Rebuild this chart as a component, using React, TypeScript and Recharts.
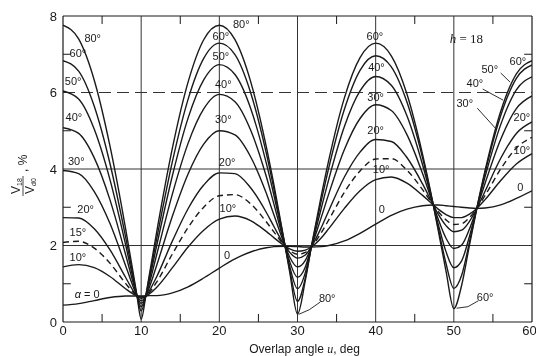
import { LineChart, Line, XAxis, YAxis, ReferenceLine, ReferenceDot, Label } from 'recharts'

const overlap = [0, 2, 4, 6, 8, 9, 9.47, 10, 10.59, 11, 12, 14, 16, 18, 20, 22, 24, 26, 27, 28.42, 29, 30, 31, 31.76, 33, 34, 36, 38, 40, 42, 44, 46, 47.37, 48, 49, 50, 51, 52, 52.94, 54, 56, 58, 60]

// V18/Vd0 in percent, one list per delay angle alpha
const alpha0 = [0.44, 0.48, 0.56, 0.64, 0.68, 0.68, 0.68, 0.68, 0.68, 0.69, 0.69, 0.76, 0.92, 1.15, 1.41, 1.65, 1.83, 1.94, 1.97, 1.98, 1.98, 1.97, 1.96, 1.96, 1.97, 2.0, 2.12, 2.32, 2.56, 2.79, 2.95, 3.04, 3.06, 3.06, 3.04, 3.02, 3.0, 2.98, 2.97, 2.98, 3.06, 3.23, 3.43]
const alpha10 = [1.44, 1.5, 1.42, 1.19, 0.87, 0.73, 0.68, 0.66, 0.68, 0.73, 0.91, 1.42, 1.96, 2.4, 2.69, 2.77, 2.65, 2.37, 2.2, 1.98, 1.91, 1.85, 1.88, 1.96, 2.19, 2.44, 2.97, 3.43, 3.72, 3.79, 3.63, 3.31, 3.06, 2.95, 2.81, 2.73, 2.73, 2.82, 2.97, 3.2, 3.7, 4.13, 4.4]
const alpha15 = [2.08, 2.11, 1.93, 1.54, 1.01, 0.77, 0.68, 0.65, 0.68, 0.76, 1.05, 1.78, 2.47, 3.0, 3.3, 3.33, 3.09, 2.62, 2.35, 1.98, 1.87, 1.77, 1.82, 1.96, 2.32, 2.67, 3.39, 3.95, 4.26, 4.27, 3.97, 3.46, 3.06, 2.89, 2.67, 2.55, 2.57, 2.73, 2.97, 3.31, 4.0, 4.55, 4.83]
const alpha20 = [2.73, 2.72, 2.44, 1.89, 1.17, 0.81, 0.68, 0.62, 0.68, 0.8, 1.19, 2.12, 2.96, 3.58, 3.9, 3.88, 3.51, 2.87, 2.49, 1.98, 1.82, 1.67, 1.75, 1.96, 2.45, 2.91, 3.79, 4.44, 4.77, 4.72, 4.3, 3.61, 3.06, 2.82, 2.52, 2.36, 2.4, 2.63, 2.97, 3.42, 4.28, 4.93, 5.23]
const alpha30 = [3.96, 3.88, 3.41, 2.58, 1.48, 0.91, 0.68, 0.56, 0.68, 0.88, 1.49, 2.77, 3.87, 4.65, 5.0, 4.89, 4.32, 3.37, 2.79, 1.98, 1.7, 1.44, 1.61, 1.96, 2.71, 3.35, 4.51, 5.32, 5.68, 5.53, 4.9, 3.88, 3.06, 2.69, 2.19, 1.92, 2.01, 2.43, 2.97, 3.63, 4.78, 5.58, 5.91]
const alpha40 = [5.08, 4.93, 4.29, 3.2, 1.77, 1.01, 0.68, 0.49, 0.68, 0.97, 1.77, 3.35, 4.67, 5.57, 5.95, 5.76, 5.02, 3.81, 3.07, 1.98, 1.58, 1.17, 1.44, 1.96, 2.94, 3.73, 5.11, 6.04, 6.42, 6.19, 5.39, 4.11, 3.06, 2.56, 1.84, 1.42, 1.6, 2.24, 2.97, 3.8, 5.16, 6.07, 6.41]
const alpha50 = [6.04, 5.83, 5.04, 3.73, 2.03, 1.1, 0.68, 0.4, 0.68, 1.05, 2.01, 3.83, 5.33, 6.33, 6.73, 6.47, 5.59, 4.16, 3.3, 1.98, 1.46, 0.87, 1.29, 1.96, 3.13, 4.03, 5.56, 6.58, 6.96, 6.67, 5.75, 4.29, 3.06, 2.46, 1.53, 0.88, 1.22, 2.09, 2.97, 3.91, 5.4, 6.37, 6.72]
const alpha60 = [6.83, 6.56, 5.64, 4.15, 2.23, 1.18, 0.68, 0.29, 0.68, 1.12, 2.19, 4.2, 5.82, 6.89, 7.29, 6.99, 6.0, 4.42, 3.46, 1.98, 1.37, 0.54, 1.15, 1.96, 3.26, 4.23, 5.86, 6.91, 7.29, 6.96, 5.96, 4.38, 3.06, 2.4, 1.33, 0.35, 0.96, 2.01, 2.97, 3.96, 5.51, 6.49, 6.83]
const alpha80 = [7.76, 7.4, 6.32, 4.61, 2.45, 1.26, 0.68, 0.07, 0.68, 1.18, 2.37, 4.55, 6.27, 7.38, 7.76, 7.38, 6.29, 4.59, 3.57, 1.98, 1.31, 0.21, 1.09, 1.96, null, null, null, null, null, null, null, null, null, null, null, null, null, null, null, null, null, null, null]

const series = [
  { key: 'a0', values: alpha0, dashed: false },
  { key: 'a10', values: alpha10, dashed: false },
  { key: 'a15', values: alpha15, dashed: true },
  { key: 'a20', values: alpha20, dashed: false },
  { key: 'a30', values: alpha30, dashed: false },
  { key: 'a40', values: alpha40, dashed: false },
  { key: 'a50', values: alpha50, dashed: false },
  { key: 'a60', values: alpha60, dashed: false },
  { key: 'a80', values: alpha80, dashed: false },
]

const rows = overlap.map((u, i) => {
  const row: Record<string, number | null> = { u }
  series.forEach(s => { row[s.key] = s.values[i] })
  return row
})

const xTicks = [0, 10, 20, 30, 40, 50, 60]
const yTicks = [0, 2, 4, 6, 8]
const minorU = [5, 15, 25, 35, 45, 55]
const minorV = [1, 3, 5, 7]
const gridU = [10, 20, 30, 40, 50]

// curve labels: position in data units, optional italic lead
const curveNotes = [
  { u: 3.8, v: 7.43, text: '80°' },
  { u: 1.9, v: 7.03, text: '60°' },
  { u: 1.3, v: 6.3, text: '50°' },
  { u: 1.4, v: 5.36, text: '40°' },
  { u: 1.7, v: 4.21, text: '30°' },
  { u: 2.9, v: 2.95, text: '20°' },
  { u: 1.9, v: 2.35, text: '15°' },
  { u: 1.9, v: 1.7, text: '10°' },
  { u: 3.1, v: 0.73, lead: 'α', text: ' = 0' },
  { u: 22.8, v: 7.79, text: '80°' },
  { u: 20.2, v: 7.48, text: '60°' },
  { u: 20.2, v: 6.96, text: '50°' },
  { u: 20.5, v: 6.22, text: '40°' },
  { u: 20.5, v: 5.31, text: '30°' },
  { u: 21.0, v: 4.18, text: '20°' },
  { u: 21.1, v: 2.98, text: '10°' },
  { u: 21.0, v: 1.75, text: '0' },
  { u: 39.9, v: 7.48, text: '60°' },
  { u: 40.1, v: 6.67, text: '40°' },
  { u: 40.0, v: 5.87, text: '30°' },
  { u: 40.0, v: 5.02, text: '20°' },
  { u: 40.7, v: 4.0, text: '10°' },
  { u: 40.8, v: 2.95, text: '0' },
  { u: 58.2, v: 6.82, text: '60°' },
  { u: 54.6, v: 6.61, text: '50°' },
  { u: 52.7, v: 6.25, text: '40°' },
  { u: 51.4, v: 5.73, text: '30°' },
  { u: 58.7, v: 5.36, text: '20°' },
  { u: 58.7, v: 4.5, text: '10°' },
  { u: 58.5, v: 3.53, text: '0' },
  { u: 33.8, v: 0.63, text: '80°' },
  { u: 54.0, v: 0.65, text: '60°' },
]

const leaders = [
  [[56.0, 6.51], [57.2, 6.27]],
  [[53.7, 6.09], [56.3, 5.8]],
  [[53.0, 5.59], [55.3, 5.07]],
  [[32.9, 0.52], [31.5, 0.32], [30.15, 0.2]],
  [[53.1, 0.55], [51.8, 0.4], [50.35, 0.36]],
]

const ink = '#1a1a1a'
const sans = '"Liberation Sans", Arial, sans-serif'
const serif = '"Liberation Serif", "DejaVu Serif", serif'

const noteContent = (lead: string | undefined, text: string, size = 11, family = sans) => (props: any) => {
  const vb = props.viewBox || {}
  const x = (vb.x || 0) + (vb.width || 0) / 2
  const y = (vb.y || 0) + (vb.height || 0) / 2
  return (
    <text x={x} y={y} dy="0.35em" textAnchor="middle" fontSize={size} fontFamily={family} fill={ink}>
      {lead && <tspan fontStyle="italic">{lead}</tspan>}
      <tspan>{text}</tspan>
    </text>
  )
}

const XTitle = (props: any) => {
  const vb = props.viewBox
  return (
    <text x={vb.x + vb.width / 2 + 7} y={vb.y + 31} textAnchor="middle" fontSize={12} fontFamily={sans} fill={ink}>
      Overlap angle <tspan fontStyle="italic" fontFamily={serif}>u</tspan>, deg
    </text>
  )
}

const YTitle = (props: any) => {
  const vb = props.viewBox
  const cx = vb.x + 23
  const cy = vb.y + vb.height / 2 + 17
  return (
    <g transform={`translate(${cx},${cy}) rotate(-90)`} fill={ink} fontFamily={sans}>
      <text x={0} y={-3} textAnchor="middle" fontSize={12}>
        V<tspan fontSize={7} dy={2}>18</tspan>
      </text>
      <line x1={-10} x2={10} y1={0} y2={0} stroke={ink} strokeWidth={0.8} />
      <text x={0} y={11} textAnchor="middle" fontSize={12}>
        V<tspan fontSize={7} dy={2}>d0</tspan>
      </text>
      <text x={14} y={4} fontSize={12}>, %</text>
    </g>
  )
}

export default function App() {
  return (
    <div style={{ position: 'absolute', left: 0, top: 0, width: 536, height: 356, background: '#fff', filter: 'grayscale(1)' }}>
      <LineChart width={536} height={356} data={rows} margin={{ top: 16, right: 4, bottom: 0, left: 0 }}>
        <XAxis
          dataKey="u"
          type="number"
          domain={[0, 60]}
          ticks={xTicks}
          allowDataOverflow
          height={34}
          tickLine={false}
          tickSize={4}
          tickMargin={0}
          axisLine={{ stroke: ink, strokeWidth: 1.2 }}
          tick={{ fontSize: 13, fill: ink, fontFamily: sans }}
        >
          <Label content={XTitle} />
        </XAxis>
        <YAxis
          type="number"
          domain={[0, 8]}
          ticks={yTicks}
          allowDataOverflow
          width={63}
          tickLine={false}
          tickSize={6}
          tickMargin={0}
          axisLine={{ stroke: ink, strokeWidth: 1.2 }}
          tick={{ fontSize: 13, fill: ink, fontFamily: sans }}
        >
          <Label content={YTitle} />
        </YAxis>

        {/* frame and grid */}
        <ReferenceLine y={8} stroke={ink} strokeWidth={1.2} />
        <ReferenceLine x={60} stroke={ink} strokeWidth={1.2} />
        {gridU.map(u => (
          <ReferenceLine key={`gx${u}`} x={u} stroke="#333" strokeWidth={1} />
        ))}
        <ReferenceLine y={2} stroke="#333" strokeWidth={1} />
        <ReferenceLine y={4} stroke="#333" strokeWidth={1} />
        <ReferenceLine y={6} stroke="#333" strokeWidth={1} strokeDasharray="12 6" />

        {/* inward minor ticks */}
        {minorU.map(u => (
          <ReferenceLine key={`tb${u}`} segment={[{ x: u, y: 0 }, { x: u, y: 0.21 }]} stroke={ink} />
        ))}
        {minorU.map(u => (
          <ReferenceLine key={`tt${u}`} segment={[{ x: u, y: 8 }, { x: u, y: 7.79 }]} stroke={ink} />
        ))}
        {minorV.map(v => (
          <ReferenceLine key={`tl${v}`} segment={[{ x: 0, y: v }, { x: 1.0, y: v }]} stroke={ink} />
        ))}
        {minorV.map(v => (
          <ReferenceLine key={`tr${v}`} segment={[{ x: 60, y: v }, { x: 59, y: v }]} stroke={ink} />
        ))}

        {series.map(s => (
          <Line
            key={s.key}
            dataKey={s.key}
            type="monotone"
            stroke={ink}
            strokeWidth={1.4}
            strokeDasharray={s.dashed ? '6 4' : undefined}
            dot={false}
            activeDot={false}
            isAnimationActive={false}
          />
        ))}

        {leaders.map((pts, i) =>
          pts.slice(1).map((p, j) => (
            <ReferenceLine
              key={`ld${i}-${j}`}
              segment={[{ x: pts[j][0], y: pts[j][1] }, { x: p[0], y: p[1] }]}
              stroke={ink}
              strokeWidth={0.9}
            />
          ))
        )}

        {curveNotes.map((n, i) => (
          <ReferenceDot
            key={`n${i}`}
            x={n.u}
            y={n.v}
            r={0}
            fill="none"
            stroke="none"
            ifOverflow="visible"
            label={{ content: noteContent(n.lead, n.text) }}
          />
        ))}
        <ReferenceDot
          x={51.6}
          y={7.42}
          r={0}
          fill="none"
          stroke="none"
          ifOverflow="visible"
          label={{ content: noteContent('h', ' = 18', 13, serif) }}
        />
      </LineChart>
    </div>
  )
}
